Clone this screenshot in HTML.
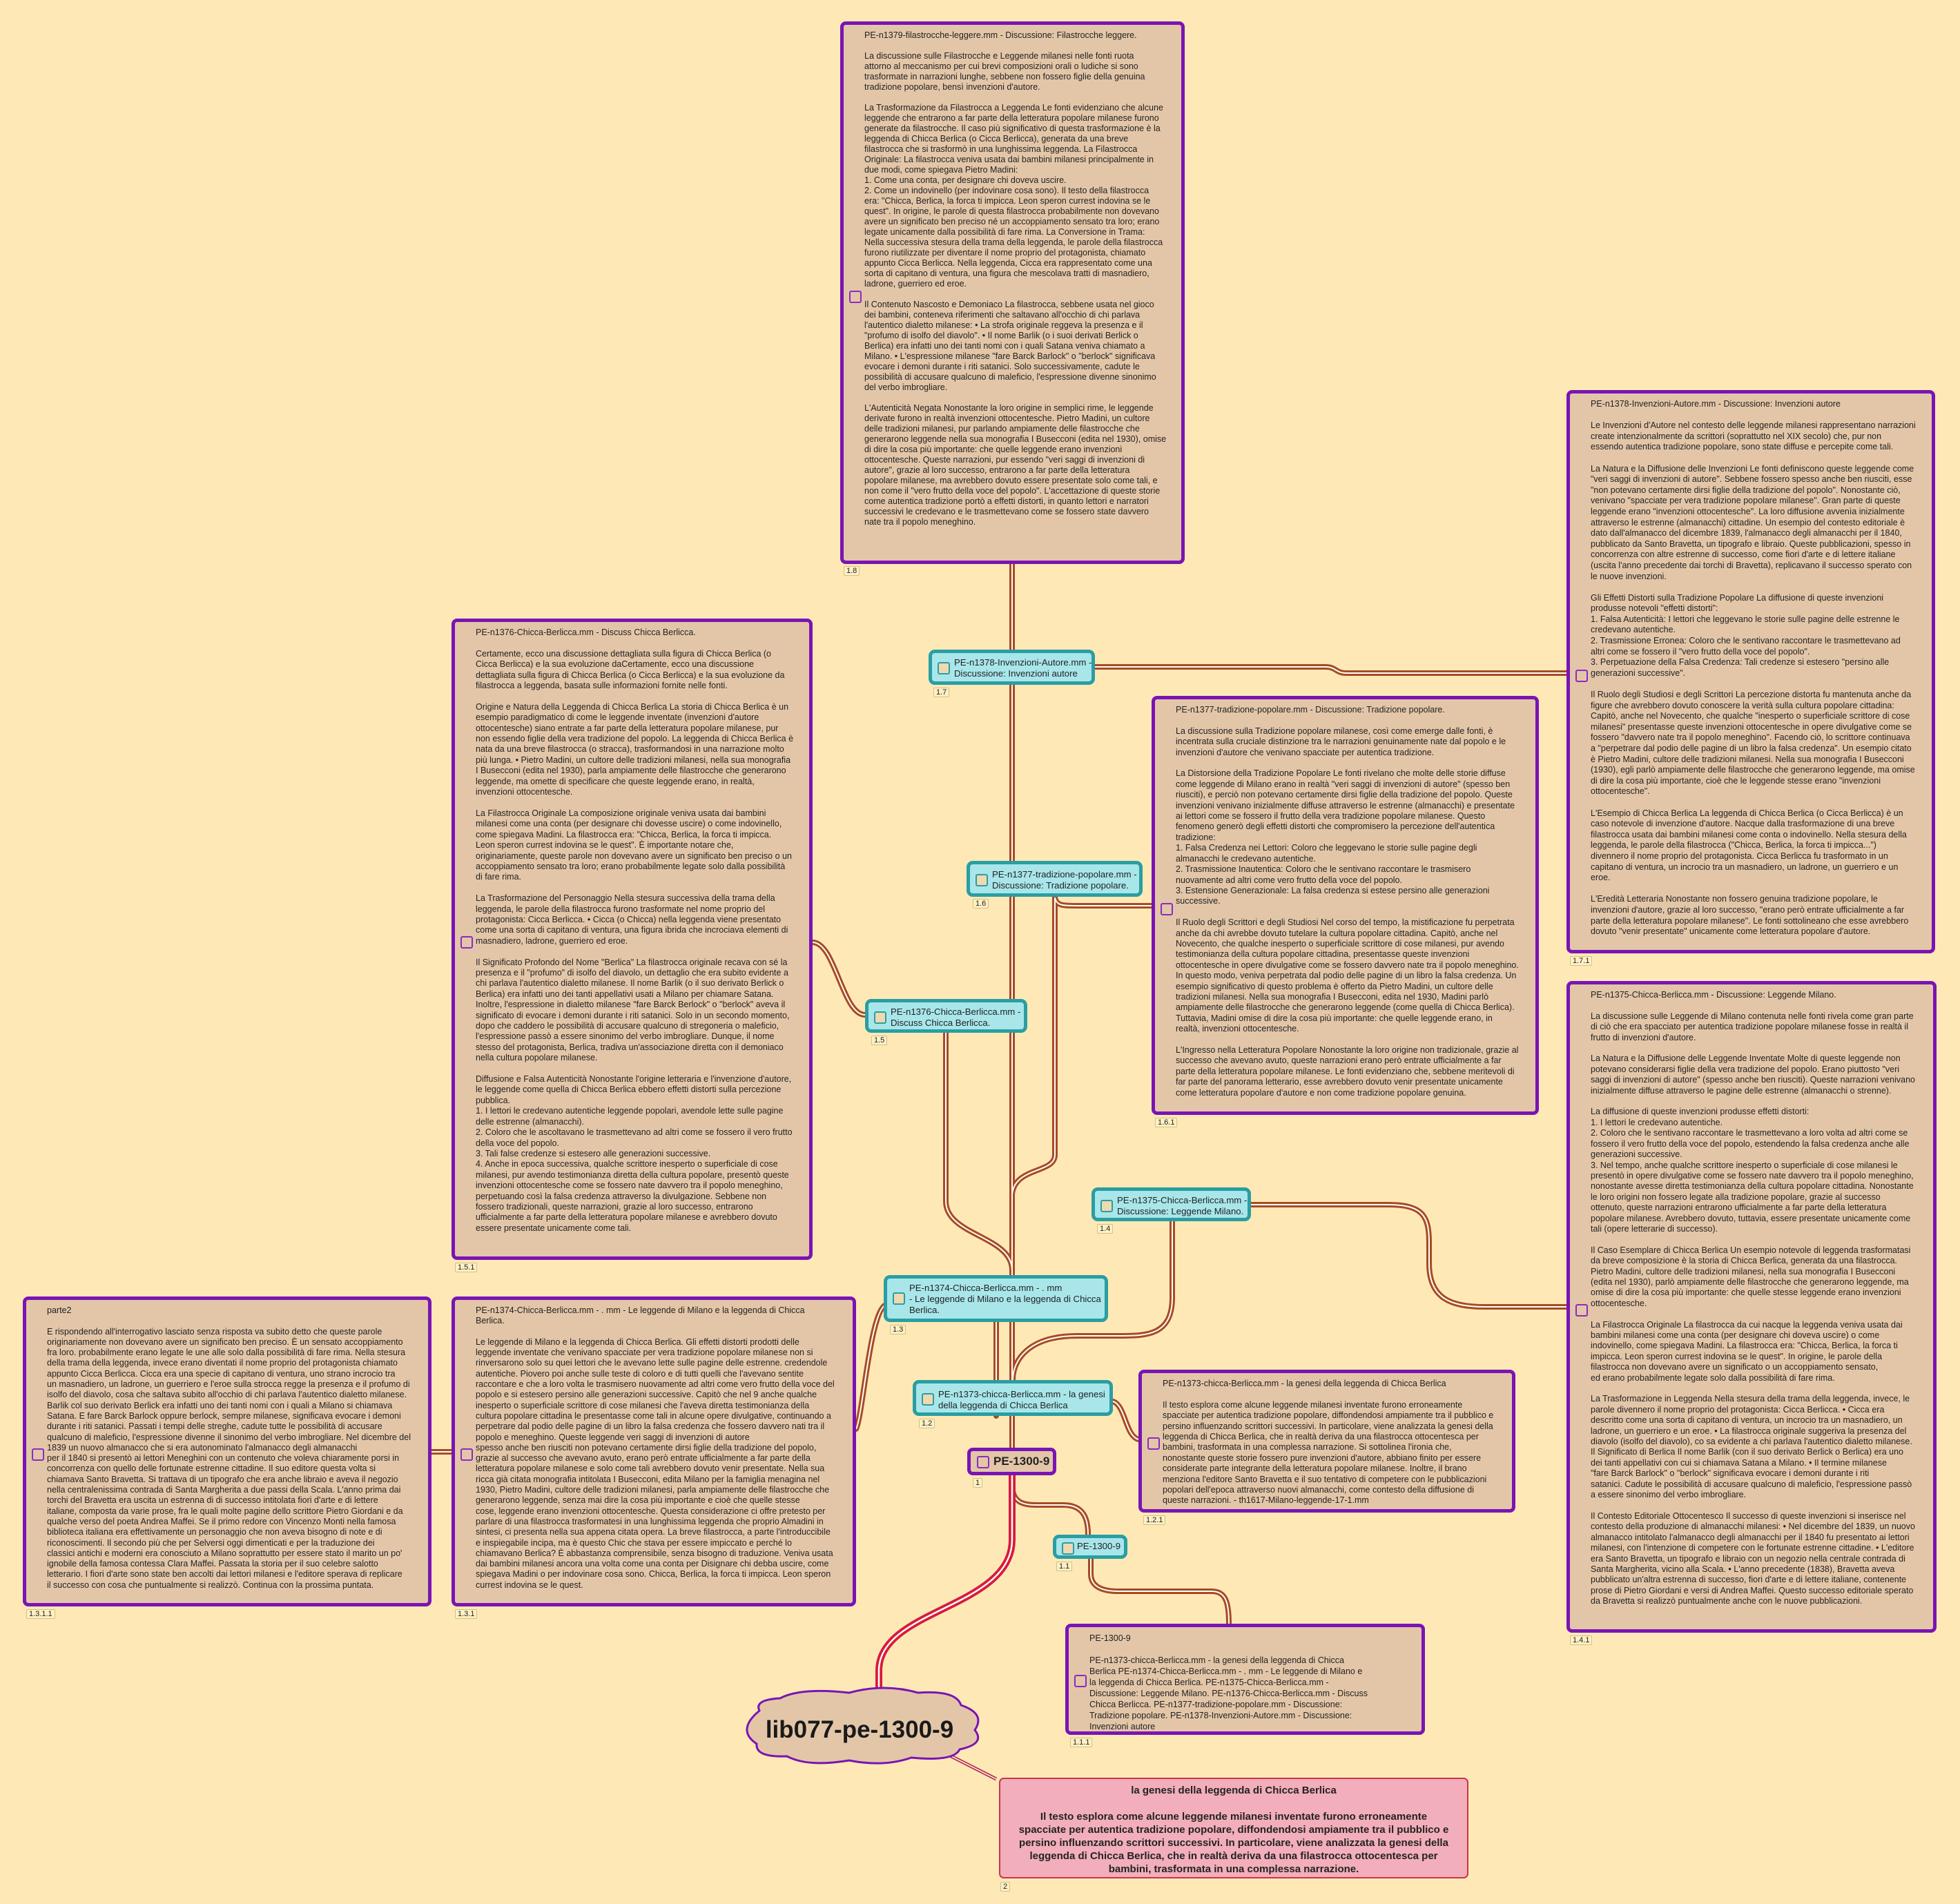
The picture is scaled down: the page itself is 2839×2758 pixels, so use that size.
<!DOCTYPE html>
<html><head><meta charset="utf-8">
<style>
body{margin:0;width:2839px;height:2758px;background:#fee9b6;position:relative;overflow:hidden;font-family:"Liberation Sans",sans-serif;color:#222}
svg{position:absolute;left:0;top:0}
.box{position:absolute;box-sizing:border-box;background:#e3c6a8;border:5px solid #7a14b4;border-radius:8px;display:flex;align-items:center;overflow:hidden}
.box .t{position:absolute;left:30px;top:8px;font-size:12.5px;line-height:15.4px;white-space:pre;}
.cb{position:absolute;width:14px;height:14px;border:2px solid #8a2cc0;border-radius:3px;background:#e3c6a8}
.cy{position:absolute;box-sizing:border-box;background:#a8e6ea;border:5px solid #2a9ea2;border-radius:9px;font-size:13.2px;line-height:16px;white-space:pre;overflow:hidden}
.cy .cb{border-color:#2a9ea2;background:#f0d9b0}
.cy .l{position:absolute;left:32px}
.tag{position:absolute;font-size:11px;line-height:12px;padding:0 3px;border:1px solid #d4c080;background:#fdf0c4;border-radius:2px}
</style></head><body>
<svg width="2839" height="2758" viewBox="0 0 2839 2758">
<g fill="none" stroke="#a64b25" stroke-width="8" stroke-linecap="round">
<path d="M1466,2097 L1466,817"/>
<path d="M1443,2051 L1443,1915"/>
<path d="M1586,966 L1920,966 C1935,966 1935,975 1950,975 L2272,975"/>
<path d="M1528,1300 L1528,1673 C1528,1700 1470,1690 1466,1730"/>
<path d="M1528,1300 C1530,1312 1540,1312 1560,1312 L1668,1312"/>
<path d="M1370,1496 L1370,1740 C1370,1790 1466,1790 1466,1840"/>
<path d="M1253,1470 C1220,1470 1210,1365 1177,1365"/>
<path d="M1698,1769 L1698,1880 C1698,1935 1660,1935 1620,1935 L1560,1935 C1490,1935 1467,1970 1467,1999"/>
<path d="M1812,1745 L2010,1745 C2060,1745 2070,1760 2070,1800 L2070,1830 C2070,1880 2100,1893 2150,1893 L2272,1893"/>
<path d="M1283,1890 C1260,1900 1250,2050 1240,2070"/>
<path d="M625,2103 L654,2103"/>
<path d="M1612,2030 C1630,2035 1630,2080 1649,2085"/>
<path d="M1466,2137 L1466,2150 C1466,2175 1480,2180 1500,2180 L1540,2180 C1570,2180 1576,2200 1576,2223"/>
<path d="M1580,2258 L1580,2280 C1580,2300 1600,2305 1620,2305 L1755,2305 C1775,2305 1780,2320 1780,2352"/>
</g>
<g fill="none" stroke="#fff" stroke-width="2">
<path d="M1466,2097 L1466,817"/>
<path d="M1443,2051 L1443,1915"/>
<path d="M1586,966 L1920,966 C1935,966 1935,975 1950,975 L2272,975"/>
<path d="M1528,1300 L1528,1673 C1528,1700 1470,1690 1466,1730"/>
<path d="M1528,1300 C1530,1312 1540,1312 1560,1312 L1668,1312"/>
<path d="M1370,1496 L1370,1740 C1370,1790 1466,1790 1466,1840"/>
<path d="M1253,1470 C1220,1470 1210,1365 1177,1365"/>
<path d="M1698,1769 L1698,1880 C1698,1935 1660,1935 1620,1935 L1560,1935 C1490,1935 1467,1970 1467,1999"/>
<path d="M1812,1745 L2010,1745 C2060,1745 2070,1760 2070,1800 L2070,1830 C2070,1880 2100,1893 2150,1893 L2272,1893"/>
<path d="M1283,1890 C1260,1900 1250,2050 1240,2070"/>
<path d="M625,2103 L654,2103"/>
<path d="M1612,2030 C1630,2035 1630,2080 1649,2085"/>
<path d="M1466,2137 L1466,2150 C1466,2175 1480,2180 1500,2180 L1540,2180 C1570,2180 1576,2200 1576,2223"/>
<path d="M1580,2258 L1580,2280 C1580,2300 1600,2305 1620,2305 L1755,2305 C1775,2305 1780,2320 1780,2352"/>
</g>
<path d="M1273,2462 L1273,2420 C1273,2330 1466,2330 1466,2230 L1466,2137" fill="none" stroke="#d81b3b" stroke-width="10"/>
<path d="M1273,2462 L1273,2420 C1273,2330 1466,2330 1466,2230 L1466,2137" fill="none" stroke="#fff" stroke-width="2.5"/>
<path d="M1370,2540 L1443,2577" stroke="#b83045" stroke-width="5"/>
<path d="M1370,2540 L1443,2577" stroke="#fff" stroke-width="1.5"/>
<path d="M1100,2478 Q1092,2462 1130,2460 Q1160,2444 1230,2452 Q1280,2438 1330,2452 Q1385,2448 1392,2470 Q1428,2482 1412,2506 Q1428,2526 1390,2534 Q1382,2552 1320,2546 Q1280,2560 1230,2550 Q1170,2560 1140,2544 Q1094,2546 1096,2526 Q1066,2506 1100,2478 Z" fill="#e3c6a8" stroke="#7a14b4" stroke-width="3"/>
<text x="1245" y="2517" text-anchor="middle" font-family="Liberation Sans, sans-serif" font-weight="bold" font-size="35" fill="#1a1a1a">lib077-pe-1300-9</text>
</svg>

<div class="box" style="left:1217px;top:31px;width:499px;height:786px"><div class="cb" style="left:8px;top:385px"></div><div class="t" style="line-height:15px">PE-n1379-filastrocche-leggere.mm - Discussione: Filastrocche leggere.

La discussione sulle Filastrocche e Leggende milanesi nelle fonti ruota
attorno al meccanismo per cui brevi composizioni orali o ludiche si sono
trasformate in narrazioni lunghe, sebbene non fossero figlie della genuina
tradizione popolare, bensì invenzioni d'autore.

La Trasformazione da Filastrocca a Leggenda Le fonti evidenziano che alcune
leggende che entrarono a far parte della letteratura popolare milanese furono
generate da filastrocche. Il caso più significativo di questa trasformazione è la
leggenda di Chicca Berlica (o Cicca Berlicca), generata da una breve
filastrocca che si trasformò in una lunghissima leggenda. La Filastrocca
Originale: La filastrocca veniva usata dai bambini milanesi principalmente in
due modi, come spiegava Pietro Madini:
1. Come una conta, per designare chi doveva uscire.
2. Come un indovinello (per indovinare cosa sono). Il testo della filastrocca
era: "Chicca, Berlica, la forca ti impicca. Leon speron currest indovina se le
quest". In origine, le parole di questa filastrocca probabilmente non dovevano
avere un significato ben preciso né un accoppiamento sensato tra loro; erano
legate unicamente dalla possibilità di fare rima. La Conversione in Trama:
Nella successiva stesura della trama della leggenda, le parole della filastrocca
furono riutilizzate per diventare il nome proprio del protagonista, chiamato
appunto Cicca Berlicca. Nella leggenda, Cicca era rappresentato come una
sorta di capitano di ventura, una figura che mescolava tratti di masnadiero,
ladrone, guerriero ed eroe.

Il Contenuto Nascosto e Demoniaco La filastrocca, sebbene usata nel gioco
dei bambini, conteneva riferimenti che saltavano all'occhio di chi parlava
l'autentico dialetto milanese: • La strofa originale reggeva la presenza e il
"profumo di isolfo del diavolo". • Il nome Barlik (o i suoi derivati Berlick o
Berlica) era infatti uno dei tanti nomi con i quali Satana veniva chiamato a
Milano. • L'espressione milanese "fare Barck Barlock" o "berlock" significava
evocare i demoni durante i riti satanici. Solo successivamente, cadute le
possibilità di accusare qualcuno di maleficio, l'espressione divenne sinonimo
del verbo imbrogliare.

L'Autenticità Negata Nonostante la loro origine in semplici rime, le leggende
derivate furono in realtà invenzioni ottocentesche. Pietro Madini, un cultore
delle tradizioni milanesi, pur parlando ampiamente delle filastrocche che
generarono leggende nella sua monografia I Busecconi (edita nel 1930), omise
di dire la cosa più importante: che quelle leggende erano invenzioni
ottocentesche. Queste narrazioni, pur essendo "veri saggi di invenzioni di
autore", grazie al loro successo, entrarono a far parte della letteratura
popolare milanese, ma avrebbero dovuto essere presentate solo come tali, e
non come il "vero frutto della voce del popolo". L'accettazione di queste storie
come autentica tradizione portò a effetti distorti, in quanto lettori e narratori
successivi le credevano e le trasmettevano come se fossero state davvero
nate tra il popolo meneghino.</div></div>
<div class="tag" style="left:1222px;top:820px">1.8</div>

<div class="box" style="left:2269px;top:565px;width:534px;height:816px"><div class="cb" style="left:8px;top:400px"></div><div class="t" style="line-height:15.6px">PE-n1378-Invenzioni-Autore.mm - Discussione: Invenzioni autore

Le Invenzioni d'Autore nel contesto delle leggende milanesi rappresentano narrazioni
create intenzionalmente da scrittori (soprattutto nel XIX secolo) che, pur non
essendo autentica tradizione popolare, sono state diffuse e percepite come tali.

La Natura e la Diffusione delle Invenzioni Le fonti definiscono queste leggende come
"veri saggi di invenzioni di autore". Sebbene fossero spesso anche ben riusciti, esse
"non potevano certamente dirsi figlie della tradizione del popolo". Nonostante ciò,
venivano "spacciate per vera tradizione popolare milanese". Gran parte di queste
leggende erano "invenzioni ottocentesche". La loro diffusione avvenìa inizialmente
attraverso le estrenne (almanacchi) cittadine. Un esempio del contesto editoriale è
dato dall'almanacco del dicembre 1839, l'almanacco degli almanacchi per il 1840,
pubblicato da Santo Bravetta, un tipografo e libraio. Queste pubblicazioni, spesso in
concorrenza con altre estrenne di successo, come fiori d'arte e di lettere italiane
(uscita l'anno precedente dai torchi di Bravetta), replicavano il successo sperato con
le nuove invenzioni.

Gli Effetti Distorti sulla Tradizione Popolare La diffusione di queste invenzioni
produsse notevoli "effetti distorti":
1. Falsa Autenticità: I lettori che leggevano le storie sulle pagine delle estrenne le
credevano autentiche.
2. Trasmissione Erronea: Coloro che le sentivano raccontare le trasmettevano ad
altri come se fossero il "vero frutto della voce del popolo".
3. Perpetuazione della Falsa Credenza: Tali credenze si estesero "persino alle
generazioni successive".

Il Ruolo degli Studiosi e degli Scrittori La percezione distorta fu mantenuta anche da
figure che avrebbero dovuto conoscere la verità sulla cultura popolare cittadina:
Capitò, anche nel Novecento, che qualche "inesperto o superficiale scrittore di cose
milanesi" presentasse queste invenzioni ottocentesche in opere divulgative come se
fossero "davvero nate tra il popolo meneghino". Facendo ciò, lo scrittore continuava
a "perpetrare dal podio delle pagine di un libro la falsa credenza". Un esempio citato
è Pietro Madini, cultore delle tradizioni milanesi. Nella sua monografia I Busecconi
(1930), egli parlò ampiamente delle filastrocche che generarono leggende, ma omise
di dire la cosa più importante, cioè che le leggende stesse erano "invenzioni
ottocentesche".

L'Esempio di Chicca Berlica La leggenda di Chicca Berlica (o Cicca Berlicca) è un
caso notevole di invenzione d'autore. Nacque dalla trasformazione di una breve
filastrocca usata dai bambini milanesi come conta o indovinello. Nella stesura della
leggenda, le parole della filastrocca ("Chicca, Berlica, la forca ti impicca...")
divennero il nome proprio del protagonista. Cicca Berlicca fu trasformato in un
capitano di ventura, un incrocio tra un masnadiero, un ladrone, un guerriero e un
eroe.

L'Eredità Letteraria Nonostante non fossero genuina tradizione popolare, le
invenzioni d'autore, grazie al loro successo, "erano però entrate ufficialmente a far
parte della letteratura popolare milanese". Le fonti sottolineano che esse avrebbero
dovuto "venir presentate" unicamente come letteratura popolare d'autore.</div></div>
<div class="tag" style="left:2274px;top:1385px">1.7.1</div>

<div class="box" style="left:654px;top:896px;width:523px;height:929px"><div class="cb" style="left:8px;top:455px"></div><div class="t" style="line-height:15.4px">PE-n1376-Chicca-Berlicca.mm - Discuss Chicca Berlicca.

Certamente, ecco una discussione dettagliata sulla figura di Chicca Berlica (o
Cicca Berlicca) e la sua evoluzione daCertamente, ecco una discussione
dettagliata sulla figura di Chicca Berlica (o Cicca Berlicca) e la sua evoluzione da
filastrocca a leggenda, basata sulle informazioni fornite nelle fonti.

Origine e Natura della Leggenda di Chicca Berlica La storia di Chicca Berlica è un
esempio paradigmatico di come le leggende inventate (invenzioni d'autore
ottocentesche) siano entrate a far parte della letteratura popolare milanese, pur
non essendo figlie della vera tradizione del popolo. La leggenda di Chicca Berlica è
nata da una breve filastrocca (o stracca), trasformandosi in una narrazione molto
più lunga. • Pietro Madini, un cultore delle tradizioni milanesi, nella sua monografia
I Busecconi (edita nel 1930), parla ampiamente delle filastrocche che generarono
leggende, ma omette di specificare che queste leggende erano, in realtà,
invenzioni ottocentesche.

La Filastrocca Originale La composizione originale veniva usata dai bambini
milanesi come una conta (per designare chi dovesse uscire) o come indovinello,
come spiegava Madini. La filastrocca era: "Chicca, Berlica, la forca ti impicca.
Leon speron currest indovina se le quest". È importante notare che,
originariamente, queste parole non dovevano avere un significato ben preciso o un
accoppiamento sensato tra loro; erano probabilmente legate solo dalla possibilità
di fare rima.

La Trasformazione del Personaggio Nella stesura successiva della trama della
leggenda, le parole della filastrocca furono trasformate nel nome proprio del
protagonista: Cicca Berlicca. • Cicca (o Chicca) nella leggenda viene presentato
come una sorta di capitano di ventura, una figura ibrida che incrociava elementi di
masnadiero, ladrone, guerriero ed eroe.

Il Significato Profondo del Nome "Berlica" La filastrocca originale recava con sé la
presenza e il "profumo" di isolfo del diavolo, un dettaglio che era subito evidente a
chi parlava l'autentico dialetto milanese. Il nome Barlik (o il suo derivato Berlick o
Berlica) era infatti uno dei tanti appellativi usati a Milano per chiamare Satana.
Inoltre, l'espressione in dialetto milanese "fare Barck Berlock" o "berlock" aveva il
significato di evocare i demoni durante i riti satanici. Solo in un secondo momento,
dopo che caddero le possibilità di accusare qualcuno di stregoneria o maleficio,
l'espressione passò a essere sinonimo del verbo imbrogliare. Dunque, il nome
stesso del protagonista, Berlica, tradiva un'associazione diretta con il demoniaco
nella cultura popolare milanese.

Diffusione e Falsa Autenticità Nonostante l'origine letteraria e l'invenzione d'autore,
le leggende come quella di Chicca Berlica ebbero effetti distorti sulla percezione
pubblica.
1. I lettori le credevano autentiche leggende popolari, avendole lette sulle pagine
delle estrenne (almanacchi).
2. Coloro che le ascoltavano le trasmettevano ad altri come se fossero il vero frutto
della voce del popolo.
3. Tali false credenze si estesero alle generazioni successive.
4. Anche in epoca successiva, qualche scrittore inesperto o superficiale di cose
milanesi, pur avendo testimonianza diretta della cultura popolare, presentò queste
invenzioni ottocentesche come se fossero nate davvero tra il popolo meneghino,
perpetuando così la falsa credenza attraverso la divulgazione. Sebbene non
fossero tradizionali, queste narrazioni, grazie al loro successo, entrarono
ufficialmente a far parte della letteratura popolare milanese e avrebbero dovuto
essere presentate unicamente come tali.</div></div>
<div class="tag" style="left:659px;top:1829px">1.5.1</div>

<div class="box" style="left:1668px;top:1008px;width:561px;height:607px"><div class="cb" style="left:8px;top:295px"></div><div class="t" style="line-height:15.4px">PE-n1377-tradizione-popolare.mm - Discussione: Tradizione popolare.

La discussione sulla Tradizione popolare milanese, così come emerge dalle fonti, è
incentrata sulla cruciale distinzione tra le narrazioni genuinamente nate dal popolo e le
invenzioni d'autore che venivano spacciate per autentica tradizione.

La Distorsione della Tradizione Popolare Le fonti rivelano che molte delle storie diffuse
come leggende di Milano erano in realtà "veri saggi di invenzioni di autore" (spesso ben
riusciti), e perciò non potevano certamente dirsi figlie della tradizione del popolo. Queste
invenzioni venivano inizialmente diffuse attraverso le estrenne (almanacchi) e presentate
ai lettori come se fossero il frutto della vera tradizione popolare milanese. Questo
fenomeno generò degli effetti distorti che compromisero la percezione dell'autentica
tradizione:
1. Falsa Credenza nei Lettori: Coloro che leggevano le storie sulle pagine degli
almanacchi le credevano autentiche.
2. Trasmissione Inautentica: Coloro che le sentivano raccontare le trasmisero
nuovamente ad altri come vero frutto della voce del popolo.
3. Estensione Generazionale: La falsa credenza si estese persino alle generazioni
successive.

Il Ruolo degli Scrittori e degli Studiosi Nel corso del tempo, la mistificazione fu perpetrata
anche da chi avrebbe dovuto tutelare la cultura popolare cittadina. Capitò, anche nel
Novecento, che qualche inesperto o superficiale scrittore di cose milanesi, pur avendo
testimonianza della cultura popolare cittadina, presentasse queste invenzioni
ottocentesche in opere divulgative come se fossero davvero nate tra il popolo meneghino.
In questo modo, veniva perpetrata dal podio delle pagine di un libro la falsa credenza. Un
esempio significativo di questo problema è offerto da Pietro Madini, un cultore delle
tradizioni milanesi. Nella sua monografia I Busecconi, edita nel 1930, Madini parlò
ampiamente delle filastrocche che generarono leggende (come quella di Chicca Berlica).
Tuttavia, Madini omise di dire la cosa più importante: che quelle leggende erano, in
realtà, invenzioni ottocentesche.

L'Ingresso nella Letteratura Popolare Nonostante la loro origine non tradizionale, grazie al
successo che avevano avuto, queste narrazioni erano però entrate ufficialmente a far
parte della letteratura popolare milanese. Le fonti evidenziano che, sebbene meritevoli di
far parte del panorama letterario, esse avrebbero dovuto venir presentate unicamente
come letteratura popolare d'autore e non come tradizione popolare genuina.</div></div>
<div class="tag" style="left:1673px;top:1619px">1.6.1</div>

<div class="box" style="left:2269px;top:1421px;width:536px;height:944px"><div class="cb" style="left:8px;top:463px"></div><div class="t" style="line-height:15.4px">PE-n1375-Chicca-Berlicca.mm - Discussione: Leggende Milano.

La discussione sulle Leggende di Milano contenuta nelle fonti rivela come gran parte
di ciò che era spacciato per autentica tradizione popolare milanese fosse in realtà il
frutto di invenzioni d'autore.

La Natura e la Diffusione delle Leggende Inventate Molte di queste leggende non
potevano considerarsi figlie della vera tradizione del popolo. Erano piuttosto "veri
saggi di invenzioni di autore" (spesso anche ben riusciti). Queste narrazioni venivano
inizialmente diffuse attraverso le pagine delle estrenne (almanacchi o strenne).

La diffusione di queste invenzioni produsse effetti distorti:
1. I lettori le credevano autentiche.
2. Coloro che le sentivano raccontare le trasmettevano a loro volta ad altri come se
fossero il vero frutto della voce del popolo, estendendo la falsa credenza anche alle
generazioni successive.
3. Nel tempo, anche qualche scrittore inesperto o superficiale di cose milanesi le
presentò in opere divulgative come se fossero nate davvero tra il popolo meneghino,
nonostante avesse diretta testimonianza della cultura popolare cittadina. Nonostante
le loro origini non fossero legate alla tradizione popolare, grazie al successo
ottenuto, queste narrazioni entrarono ufficialmente a far parte della letteratura
popolare milanese. Avrebbero dovuto, tuttavia, essere presentate unicamente come
tali (opere letterarie di successo).

Il Caso Esemplare di Chicca Berlica Un esempio notevole di leggenda trasformatasi
da breve composizione è la storia di Chicca Berlica, generata da una filastrocca.
Pietro Madini, cultore delle tradizioni milanesi, nella sua monografia I Busecconi
(edita nel 1930), parlò ampiamente delle filastrocche che generarono leggende, ma
omise di dire la cosa più importante: che quelle stesse leggende erano invenzioni
ottocentesche.

La Filastrocca Originale La filastrocca da cui nacque la leggenda veniva usata dai
bambini milanesi come una conta (per designare chi doveva uscire) o come
indovinello, come spiegava Madini. La filastrocca era: "Chicca, Berlica, la forca ti
impicca. Leon speron currest indovina se le quest". In origine, le parole della
filastrocca non dovevano avere un significato o un accoppiamento sensato,
ed erano probabilmente legate solo dalla possibilità di fare rima.

La Trasformazione in Leggenda Nella stesura della trama della leggenda, invece, le
parole divennero il nome proprio del protagonista: Cicca Berlicca. • Cicca era
descritto come una sorta di capitano di ventura, un incrocio tra un masnadiero, un
ladrone, un guerriero e un eroe. • La filastrocca originale suggeriva la presenza del
diavolo (isolfo del diavolo), co sa evidente a chi parlava l'autentico dialetto milanese.
Il Significato di Berlica Il nome Barlik (con il suo derivato Berlick o Berlica) era uno
dei tanti appellativi con cui si chiamava Satana a Milano. • Il termine milanese
"fare Barck Barlock" o "berlock" significava evocare i demoni durante i riti
satanici. Cadute le possibilità di accusare qualcuno di maleficio, l'espressione passò
a essere sinonimo del verbo imbrogliare.

Il Contesto Editoriale Ottocentesco Il successo di queste invenzioni si inserisce nel
contesto della produzione di almanacchi milanesi: • Nel dicembre del 1839, un nuovo
almanacco intitolato l'almanacco degli almanacchi per il 1840 fu presentato ai lettori
milanesi, con l'intenzione di competere con le fortunate estrenne cittadine. • L'editore
era Santo Bravetta, un tipografo e libraio con un negozio nella centrale contrada di
Santa Margherita, vicino alla Scala. • L'anno precedente (1838), Bravetta aveva
pubblicato un'altra estrenna di successo, fiori d'arte e di lettere italiane, contenente
prose di Pietro Giordani e versi di Andrea Maffei. Questo successo editoriale sperato
da Bravetta si realizzò puntualmente anche con le nuove pubblicazioni.</div></div>
<div class="tag" style="left:2274px;top:2369px">1.4.1</div>

<div class="box" style="left:33px;top:1878px;width:592px;height:449px"><div class="cb" style="left:8px;top:215px"></div><div class="t" style="line-height:15.3px">parte2

E rispondendo all'interrogativo lasciato senza risposta va subito detto che queste parole
originariamente non dovevano avere un significato ben preciso. È un sensato accoppiamento
fra loro. probabilmente erano legate le une alle solo dalla possibilità di fare rima. Nella stesura
della trama della leggenda, invece erano diventati il nome proprio del protagonista chiamato
appunto Cicca Berlicca. Cicca era una specie di capitano di ventura, uno strano incrocio tra
un masnadiero, un ladrone, un guerriero e l'eroe sulla strocca regge la presenza e il profumo di
isolfo del diavolo, cosa che saltava subito all'occhio di chi parlava l'autentico dialetto milanese.
Barlik col suo derivato Berlick era infatti uno dei tanti nomi con i quali a Milano si chiamava
Satana. E fare Barck Barlock oppure berlock, sempre milanese, significava evocare i demoni
durante i riti satanici. Passati i tempi delle streghe, cadute tutte le possibilità di accusare
qualcuno di maleficio, l'espressione divenne il sinonimo del verbo imbrogliare. Nel dicembre del
1839 un nuovo almanacco che si era autonominato l'almanacco degli almanacchi
per il 1840 si presentò ai lettori Meneghini con un contenuto che voleva chiaramente porsi in
concorrenza con quello delle fortunate estrenne cittadine. Il suo editore questa volta si
chiamava Santo Bravetta. Si trattava di un tipografo che era anche libraio e aveva il negozio
nella centralenissima contrada di Santa Margherita a due passi della Scala. L'anno prima dai
torchi del Bravetta era uscita un estrenna di di successo intitolata fiori d'arte e di lettere
italiane, composta da varie prose, fra le quali molte pagine dello scrittore Pietro Giordani e da
qualche verso del poeta Andrea Maffei. Se il primo redore con Vincenzo Monti nella famosa
biblioteca italiana era effettivamente un personaggio che non aveva bisogno di note e di
riconoscimenti. Il secondo più che per Selversi oggi dimenticati e per la traduzione dei
classici antichi e moderni era conosciuto a Milano soprattutto per essere stato il marito un po'
ignobile della famosa contessa Clara Maffei. Passata la storia per il suo celebre salotto
letterario. I fiori d'arte sono state ben accolti dai lettori milanesi e l'editore sperava di replicare
il successo con cosa che puntualmente si realizzò. Continua con la prossima puntata.</div></div>
<div class="tag" style="left:38px;top:2331px">1.3.1.1</div>

<div class="box" style="left:654px;top:1878px;width:586px;height:449px"><div class="cb" style="left:8px;top:215px"></div><div class="t" style="line-height:15.3px">PE-n1374-Chicca-Berlicca.mm - . mm - Le leggende di Milano e la leggenda di Chicca
Berlica.

Le leggende di Milano e la leggenda di Chicca Berlica. Gli effetti distorti prodotti delle
leggende inventate che venivano spacciate per vera tradizione popolare milanese non si
rinversarono solo su quei lettori che le avevano lette sulle pagine delle estrenne. credendole
autentiche. Piovero poi anche sulle teste di coloro e di tutti quelli che l'avevano sentite
raccontare e che a loro volta le trasmisero nuovamente ad altri come vero frutto della voce del
popolo e si estesero persino alle generazioni successive. Capitò che nel 9 anche qualche
inesperto o superficiale scrittore di cose milanesi che l'aveva diretta testimonianza della
cultura popolare cittadina le presentasse come tali in alcune opere divulgative, continuando a
perpetrare dal podio delle pagine di un libro la falsa credenza che fossero davvero nati tra il
popolo e meneghino. Queste leggende veri saggi di invenzioni di autore
spesso anche ben riusciti non potevano certamente dirsi figlie della tradizione del popolo,
grazie al successo che avevano avuto, erano però entrate ufficialmente a far parte della
letteratura popolare milanese e solo come tali avrebbero dovuto venir presentate. Nella sua
ricca già citata monografia intitolata I Busecconi, edita Milano per la famiglia menagina nel
1930, Pietro Madini, cultore delle tradizioni milanesi, parla ampiamente delle filastrocche che
generarono leggende, senza mai dire la cosa più importante e cioè che quelle stesse
cose, leggende erano invenzioni ottocentesche. Questa considerazione ci offre pretesto per
parlare di una filastrocca trasformatesi in una lunghissima leggenda che proprio Almadini in
sintesi, ci presenta nella sua appena citata opera. La breve filastrocca, a parte l'introduccibile
e inspiegabile incipa, ma è questo Chic che stava per essere impiccato e perché lo
chiamavano Berlica? È abbastanza comprensibile, senza bisogno di traduzione. Veniva usata
dai bambini milanesi ancora una volta come una conta per Disignare chi debba uscire, come
spiegava Madini o per indovinare cosa sono. Chicca, Berlica, la forca ti impicca. Leon speron
currest indovina se le quest.</div></div>
<div class="tag" style="left:659px;top:2331px">1.3.1</div>

<div class="box" style="left:1649px;top:1984px;width:546px;height:207px"><div class="cb" style="left:8px;top:93px"></div><div class="t" style="line-height:15.4px">PE-n1373-chicca-Berlicca.mm - la genesi della leggenda di Chicca Berlica

Il testo esplora come alcune leggende milanesi inventate furono erroneamente
spacciate per autentica tradizione popolare, diffondendosi ampiamente tra il pubblico e
persino influenzando scrittori successivi. In particolare, viene analizzata la genesi della
leggenda di Chicca Berlica, che in realtà deriva da una filastrocca ottocentesca per
bambini, trasformata in una complessa narrazione. Si sottolinea l'ironia che,
nonostante queste storie fossero pure invenzioni d'autore, abbiano finito per essere
considerate parte integrante della letteratura popolare milanese. Inoltre, il brano
menziona l'editore Santo Bravetta e il suo tentativo di competere con le pubblicazioni
popolari dell'epoca attraverso nuovi almanacchi, come contesto della diffusione di
queste narrazioni. - th1617-Milano-leggende-17-1.mm</div></div>
<div class="tag" style="left:1656px;top:2195px">1.2.1</div>

<div class="box" style="left:1543px;top:2352px;width:521px;height:161px"><div class="cb" style="left:8px;top:69px"></div><div class="t" style="line-height:16px">PE-1300-9

PE-n1373-chicca-Berlicca.mm - la genesi della leggenda di Chicca
Berlica PE-n1374-Chicca-Berlicca.mm - . mm - Le leggende di Milano e
la leggenda di Chicca Berlica. PE-n1375-Chicca-Berlicca.mm -
Discussione: Leggende Milano. PE-n1376-Chicca-Berlicca.mm - Discuss
Chicca Berlicca. PE-n1377-tradizione-popolare.mm - Discussione:
Tradizione popolare. PE-n1378-Invenzioni-Autore.mm - Discussione:
Invenzioni autore</div></div>
<div class="tag" style="left:1550px;top:2517px">1.1.1</div>

<div style="position:absolute;left:1447px;top:2575px;width:680px;height:146px;box-sizing:border-box;background:#f2aeba;border:2px solid #c8344c;border-radius:7px;font-weight:bold;font-size:15px;line-height:19px;text-align:center;white-space:pre;padding-top:7px">la genesi della leggenda di Chicca Berlica

Il testo esplora come alcune leggende milanesi inventate furono erroneamente
spacciate per autentica tradizione popolare, diffondendosi ampiamente tra il pubblico e
persino influenzando scrittori successivi. In particolare, viene analizzata la genesi della
leggenda di Chicca Berlica, che in realtà deriva da una filastrocca ottocentesca per
bambini, trasformata in una complessa narrazione.</div>
<div class="tag" style="left:1449px;top:2726px">2</div>

<div class="cy" style="left:1345px;top:941px;width:241px;height:51px"><div class="cb" style="left:8px;top:13px"></div><div class="l" style="top:6px">PE-n1378-Invenzioni-Autore.mm -
Discussione: Invenzioni autore</div></div>
<div class="tag" style="left:1352px;top:996px">1.7</div>
<div class="cy" style="left:1400px;top:1247px;width:255px;height:52px"><div class="cb" style="left:8px;top:14px"></div><div class="l" style="top:7px">PE-n1377-tradizione-popolare.mm -
Discussione: Tradizione popolare.</div></div>
<div class="tag" style="left:1409px;top:1302px">1.6</div>
<div class="cy" style="left:1253px;top:1447px;width:235px;height:49px"><div class="cb" style="left:8px;top:13px"></div><div class="l" style="top:6px">PE-n1376-Chicca-Berlicca.mm -
Discuss Chicca Berlicca.</div></div>
<div class="tag" style="left:1262px;top:1500px">1.5</div>
<div class="cy" style="left:1581px;top:1720px;width:231px;height:49px"><div class="cb" style="left:8px;top:13px"></div><div class="l" style="top:6px">PE-n1375-Chicca-Berlicca.mm -
Discussione: Leggende Milano.</div></div>
<div class="tag" style="left:1589px;top:1773px">1.4</div>
<div class="cy" style="left:1280px;top:1847px;width:325px;height:68px"><div class="cb" style="left:8px;top:20px"></div><div class="l" style="top:6px">PE-n1374-Chicca-Berlicca.mm - . mm
- Le leggende di Milano e la leggenda di Chicca
Berlica.</div></div>
<div class="tag" style="left:1289px;top:1919px">1.3</div>
<div class="cy" style="left:1322px;top:1999px;width:290px;height:52px"><div class="cb" style="left:8px;top:14px"></div><div class="l" style="top:8px">PE-n1373-chicca-Berlicca.mm - la genesi
della leggenda di Chicca Berlica</div></div>
<div class="tag" style="left:1331px;top:2055px">1.2</div>
<div style="position:absolute;left:1401px;top:2097px;width:129px;height:40px;box-sizing:border-box;background:#e3c6a8;border:5px solid #7a14b4;border-radius:8px;font-weight:bold;font-size:17px;line-height:30px"><div class="cb" style="left:9px;top:7px"></div><span style="position:absolute;left:33px">PE-1300-9</span></div>
<div class="tag" style="left:1409px;top:2141px">1</div>
<div class="cy" style="left:1525px;top:2223px;width:108px;height:35px"><div class="cb" style="left:8px;top:6px"></div><div class="l" style="top:4px;left:30px">PE-1300-9</div></div>
<div class="tag" style="left:1530px;top:2262px">1.1</div>
</body></html>
